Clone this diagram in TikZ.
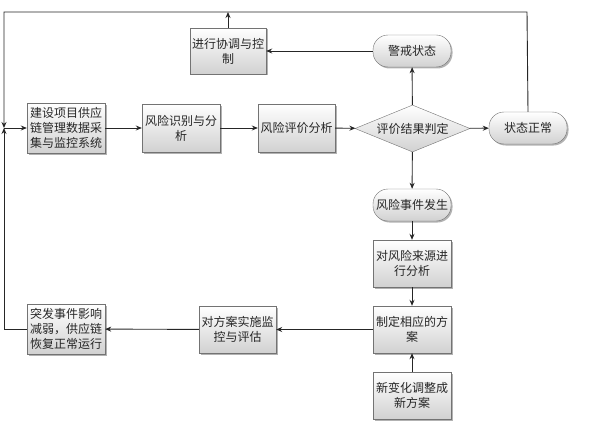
\documentclass[tikz,border=0pt]{standalone}
\usepackage{fontspec}
\setmainfont{Noto Sans CJK SC}
\usetikzlibrary{shapes.geometric,shadows,arrows.meta}

\tikzset{
  box/.style={draw=black!55, top color=white, bottom color=black!18,
    drop shadow={shadow xshift=1.5pt, shadow yshift=-1.5pt, fill=black!60},
    minimum width=78pt, minimum height=48pt, inner sep=2pt, align=center,
    font=\fontsize{12}{15}\selectfont, text=black!85},
  term/.style={box, rounded corners=15pt, minimum height=32pt},
  judge/.style={diamond, draw=black!55, top color=white, bottom color=black!18,
    aspect=2.4, minimum width=115pt, minimum height=47pt, inner sep=0pt,
    font=\fontsize{12}{15}\selectfont, text=black!85},
  arrow/.style={draw=black!85, line width=0.9pt, -{Stealth[length=6pt,width=5pt]}}
}

\begin{document}
\begin{tikzpicture}[x=1pt, y=-1pt]
  \useasboundingbox (0,0) rectangle (593,425);

  \node[box, minimum width=76pt, minimum height=46pt] (xietiao) at (228,51) {进行协调与控\\制};
  \node[box, minimum height=50pt, align=left] (jianshe) at (66,128) {建设项目供应\\链管理数据采\\集与监控系统};
  \node[box] (shibie) at (181,128) {风险识别与分\\析};
  \node[box, minimum width=77pt] (pingjia) at (296.5,128) {风险评价分析};
  \node[judge] (panding) at (412.5,128.5) {评价结果判定};
  \node[term] (zhengchang) at (528,128) {状态正常};
  \node[term] (jingjie) at (412,51) {警戒状态};
  \node[term] (fasheng) at (412,205) {风险事件发生};
  \node[box, minimum height=47pt] (laiyuan) at (412,263.5) {对风险来源进\\行分析};
  \node[box, minimum height=47pt] (zhiding) at (412,329.5) {制定相应的方\\案};
  \node[box, minimum height=47pt] (xinbianhua) at (412,395.5) {新变化调整成\\新方案};
  \node[box, minimum width=77pt, minimum height=47pt] (jiankong) at (237.5,329.5) {对方案实施监\\控与评估};
  \node[box, minimum height=50pt, align=left] (tufa) at (66,329) {突发事件影响\\减弱，供应链\\恢复正常运行};

  \coordinate (join) at (4,128);
  \coordinate (topleft) at (4,12);
  \coordinate (topright) at (527,12);
  \coordinate (bottomleft) at (4,329);

  \draw[arrow] (join) -- (jianshe);
  \draw[arrow] (jianshe) -- (shibie);
  \draw[arrow] (shibie) -- (pingjia);
  \draw[arrow] (pingjia) -- (panding);
  \draw[arrow] (panding) -- (zhengchang);
  \draw[arrow] (panding) -- (jingjie);
  \draw[arrow] (jingjie) -- (xietiao);
  \draw[arrow] (xietiao.north) -- (xietiao.north |- topleft);
  \draw[arrow] (zhengchang.north) -- (topright) -- (topleft) -- (join);
  \draw[arrow] (panding) -- (fasheng);
  \draw[arrow] (fasheng) -- (laiyuan);
  \draw[arrow] (laiyuan) -- (zhiding);
  \draw[arrow] (xinbianhua) -- (zhiding);
  \draw[arrow] (zhiding) -- (jiankong);
  \draw[arrow] (jiankong) -- (tufa);
  \draw[arrow] (tufa.west) -- (bottomleft) -- (join);
\end{tikzpicture}
\end{document}
